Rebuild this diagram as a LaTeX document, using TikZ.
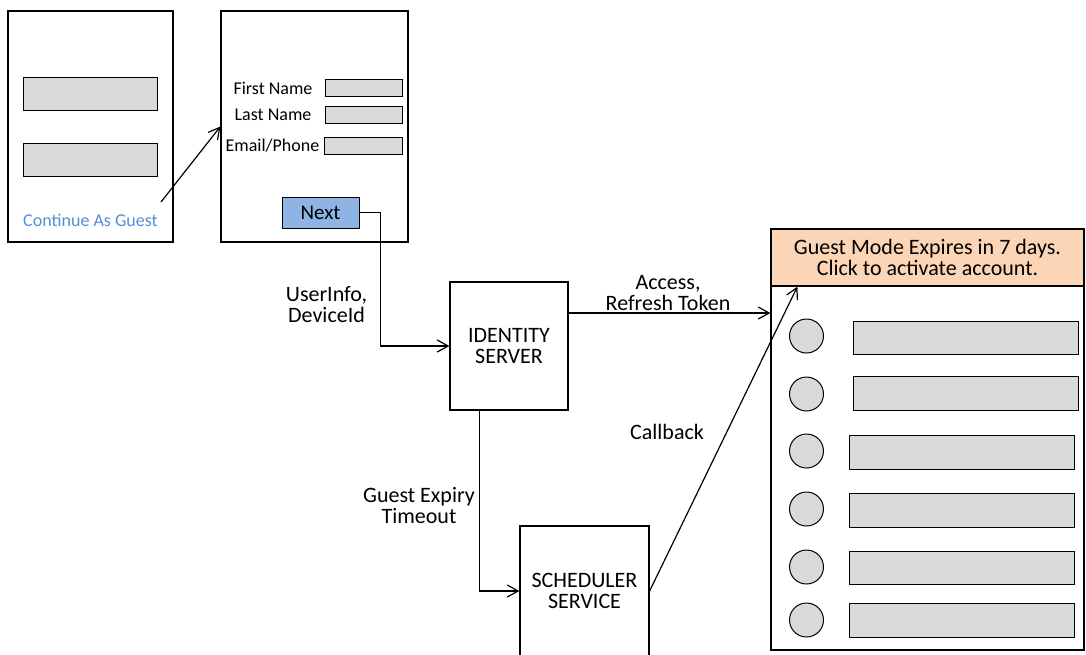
\documentclass[tikz,border=0pt]{standalone}
\usepackage{fontspec}
\setmainfont{Carlito}
\usetikzlibrary{arrows.meta,calc}

\definecolor{fieldgrey}{RGB}{217,217,217}
\definecolor{nextblue}{RGB}{141,180,226}
\definecolor{headerpeach}{RGB}{251,213,181}
\definecolor{guestblue}{RGB}{85,142,213}

\tikzset{
  screen/.style={draw, line width=1.2pt, inner sep=0pt},
  field/.style={draw, fill=fieldgrey, line width=1pt, inner sep=0pt},
  dot/.style={circle, draw, fill=fieldgrey, line width=1pt, inner sep=0pt, minimum size=34pt},
  small/.style={inner sep=0.75pt, font=\fontsize{18}{21}\selectfont},
  big/.style={inner sep=0.75pt, align=center, font=\fontsize{22}{21}\selectfont},
  boxtext/.style={align=center, font=\fontsize{22}{21}\selectfont},
  arr/.style={line width=1.2pt, -{Straight Barb[length=11pt,width=12pt]}},
}

\begin{document}
\begin{tikzpicture}[x=1pt,y=1pt,yscale=-1,xscale=1]
\useasboundingbox (0,0) rectangle (1086,654);

%Shape: Rectangle [start screen]
\node[screen, minimum width=165pt, minimum height=231pt] (screen1) at (90.5,126.5) {};
\node[field, minimum width=134pt, minimum height=33pt] (btnone) at (90,93.5) {};
\node[field, minimum width=134pt, minimum height=33pt] (btntwo) at (90,159.5) {};
% Text Node
\node[small, text=guestblue] (guest) at (90.5,220.5) {Continue As Guest};
\coordinate (tap) at (161,202);

%Shape: Rectangle [guest form]
\node[screen, minimum width=187pt, minimum height=231pt] (screen2) at (314.5,126.5) {};
% Text Node
\node[small] (firstlbl) at (273,88) {First Name};
% Text Node
\node[small] (lastlbl) at (273,115) {Last Name};
% Text Node
\node[small] (maillbl) at (272.5,146) {Email/Phone};
\node[field, minimum width=77pt, minimum height=17pt] (firstbox) at (363.5,87.5) {};
\node[field, minimum width=77pt, minimum height=17pt] (lastbox) at (363.5,114.5) {};
\node[field, minimum width=78pt, minimum height=17pt] (mailbox) at (363,145.5) {};
%Shape: Rectangle [button]
\node[field, fill=nextblue, minimum width=77pt, minimum height=31pt, font=\fontsize{21}{24}\selectfont] (next) at (320.5,212.5) {Next};

%Shape: Rectangle [servers]
\node[screen, boxtext, minimum width=118pt, minimum height=128pt] (identity) at (509,346) {IDENTITY\\SERVER};
\node[screen, boxtext, minimum width=129pt, minimum height=130pt] (scheduler) at (584.5,591) {SCHEDULER\\SERVICE};

%Shape: Rectangle [home screen]
\node[screen, minimum width=313pt, minimum height=421pt] (panel) at (927.5,439.5) {};
\node[screen, big, fill=headerpeach, minimum width=313pt, minimum height=57pt] (header) at (927.5,257.5) {Guest Mode Expires in 7 days.\\Click to activate account.};

%Shape: Circle
\node[dot] (dotone) at (806.5,336) {};
\node[dot] (dottwo) at (806.5,394) {};
\node[dot] (dotthree) at (806.5,451) {};
\node[dot] (dotfour) at (806.5,509) {};
\node[dot] (dotfive) at (806.5,567) {};
\node[dot] (dotsix) at (806.5,620) {};
%Shape: Rectangle [list rows]
\node[field, minimum width=225pt, minimum height=33pt] (rowone) at (965.5,337.5) {};
\node[field, minimum width=225pt, minimum height=34pt] (rowtwo) at (965.5,393) {};
\node[field, minimum width=225pt, minimum height=34pt] (rowthree) at (961.5,452) {};
\node[field, minimum width=225pt, minimum height=34pt] (rowfour) at (961.5,510) {};
\node[field, minimum width=225pt, minimum height=33pt] (rowfive) at (961.5,567.5) {};
\node[field, minimum width=225pt, minimum height=34pt] (rowsix) at (961.5,620) {};

% Text Node
\node[big] (userinfo) at (326.5,304.5) {UserInfo,\\DeviceId};
% Text Node
\node[big] (tokens) at (668,293) {Access,\\Refresh Token};
% Text Node
\node[big] (callback) at (667,432) {Callback};
% Text Node
\node[big] (expiry) at (419,505.5) {Guest Expiry\\Timeout};

%Connectors
\draw[arr] (tap) -- (screen2.west);
\draw[arr] (next.east) -- ++(21,0) |- (identity.west);
\draw[arr] ($(identity.east)+(0,-33)$) -- ($(panel.west |- identity.east)+(0,-33)$);
\draw[arr] ($(identity.south west)+(30,0)$) |- (scheduler.west);
\draw[arr] (scheduler.east) -- ($(header.south west)+(27,0)$);

\end{tikzpicture}
\end{document}
